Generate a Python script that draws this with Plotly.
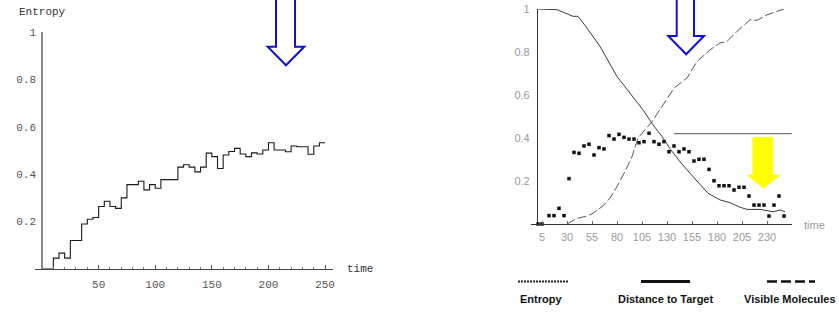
import plotly.graph_objects as go

W, H = 839, 313

# ---------------- data ----------------
# Left chart: entropy over time (step series)
left_time = [0, 10, 15, 20, 25, 35, 40, 45, 50, 55,
             60, 65, 70, 75, 85, 90, 95, 100, 105, 120,
             125, 130, 135, 140, 145, 150, 155, 160, 165, 170,
             175, 180, 185, 190, 195, 200, 205, 215, 220, 225,
             235, 240, 245, 250]
left_entropy = [0, 0.046, 0.067, 0.046, 0.12, 0.19, 0.21, 0.217, 0.264, 0.286,
                0.264, 0.256, 0.30, 0.356, 0.37, 0.334, 0.356, 0.341, 0.377, 0.43,
                0.44, 0.43, 0.41, 0.43, 0.489, 0.474, 0.424, 0.481, 0.496, 0.509,
                0.485, 0.474, 0.49, 0.485, 0.502, 0.533, 0.502, 0.495, 0.519, 0.516,
                0.484, 0.519, 0.533, 0.533]

# Right chart: entropy (dots)
right_entropy_time = [1, 5] + list(range(12, 248, 5))
right_entropy = [0, 0, 0.039, 0.039, 0.073, 0.039, 0.211, 0.333, 0.329, 0.363,
                 0.371, 0.321, 0.355, 0.349, 0.411, 0.395, 0.417, 0.403, 0.395, 0.395,
                 0.378, 0.383, 0.422, 0.383, 0.371, 0.383, 0.336, 0.363, 0.336, 0.349,
                 0.336, 0.293, 0.301, 0.301, 0.254, 0.201, 0.178, 0.178, 0.178, 0.158,
                 0.171, 0.171, 0.130, 0.088, 0.088, 0.088, 0.037, 0.088, 0.13, 0.037]

# Right chart: distance to target (solid)
distance_time = [0, 20, 36, 41, 50, 63, 80, 93, 106, 116, 125, 133, 143, 153,
                 163, 171, 183, 193, 203, 210, 223, 230, 236, 243, 248]
distance = [1.0, 0.997, 0.966, 0.966, 0.911, 0.826, 0.686, 0.609, 0.531, 0.461,
            0.407, 0.35, 0.29, 0.236, 0.182, 0.143, 0.112, 0.099, 0.078, 0.068,
            0.068, 0.062, 0.057, 0.065, 0.057]

# Right chart: visible molecules (dashed)
visible_time = [30, 40, 50, 56, 66, 73, 80, 88, 95, 101, 115, 127, 137, 150,
                160, 173, 183, 190, 200, 213, 220, 230, 240, 247]
visible = [0, 0.026, 0.037, 0.05, 0.084, 0.12, 0.174, 0.244, 0.313, 0.40,
           0.476, 0.562, 0.632, 0.679, 0.756, 0.81, 0.842, 0.849, 0.896, 0.95,
           0.947, 0.973, 0.989, 1.0]

# Right chart: reference level line
level_time = [137, 255]
level_value = [0.42, 0.42]

left_xticks = [50, 100, 150, 200, 250]
yticks = [0.2, 0.4, 0.6, 0.8, 1]
ytick_text = ["0.2", "0.4", "0.6", "0.8", "1"]
right_xticks = [5, 30, 55, 80, 105, 130, 155, 180, 205, 230]
legend_labels = ["Entropy", "Distance to Target", "Visible Molecules"]


def px(x):
    return x / W


def py(y):
    return 1 - y / H


fig = go.Figure()

fig.add_trace(go.Scatter(x=left_time, y=left_entropy, mode="lines",
                         line=dict(color="#1a1a1a", width=1.1, shape="hv"),
                         xaxis="x", yaxis="y", hoverinfo="skip"))

fig.add_trace(go.Scatter(x=distance_time, y=distance, mode="lines",
                         line=dict(color="#3a3a3a", width=1),
                         xaxis="x2", yaxis="y2", hoverinfo="skip"))
fig.add_trace(go.Scatter(x=visible_time, y=visible, mode="lines",
                         line=dict(color="#555555", width=1, dash="9px,3px"),
                         xaxis="x2", yaxis="y2", hoverinfo="skip"))
fig.add_trace(go.Scatter(x=level_time, y=level_value, mode="lines",
                         line=dict(color="#555555", width=1),
                         xaxis="x2", yaxis="y2", hoverinfo="skip"))
fig.add_trace(go.Scatter(x=right_entropy_time, y=right_entropy, mode="markers",
                         marker=dict(symbol="square", size=3.5, color="#111111"),
                         xaxis="x2", yaxis="y2", hoverinfo="skip", cliponaxis=False))

mono = dict(family="Liberation Mono, Courier New, monospace", size=11, color="#555555")
narrow = dict(family="Liberation Sans, Arial", size=11, color="#9a9a9a")

fig.update_layout(
    width=W, height=H,
    margin=dict(l=0, r=0, t=0, b=0, pad=0),
    paper_bgcolor="white", plot_bgcolor="white",
    showlegend=False,
    xaxis=dict(domain=[px(35), px(333)], range=[-6.2, 257], anchor="y", automargin=False,
               showgrid=False, showline=True, linecolor="#444444", linewidth=1,
               zeroline=True, zerolinecolor="#8a8a8a", zerolinewidth=2,
               tickvals=left_xticks, ticks="inside", ticklen=4, tickcolor="#555555",
               minor=dict(dtick=10, tick0=0, ticks="inside", ticklen=2, tickcolor="#777777"),
               tickfont=mono, ticklabelstandoff=5),
    yaxis=dict(domain=[py(269), py(32)], range=[0, 1], anchor="x", automargin=False,
               showgrid=False, showline=False, zeroline=False,
               tickvals=yticks, ticktext=ytick_text, ticks="", tickfont=mono,
               ticklabelstandoff=-2),
    xaxis2=dict(domain=[px(530.7), px(791.7)], range=[-6.3, 254.7], anchor="y2", automargin=False,
                showgrid=False, showline=True, linecolor="#333333", linewidth=1,
                zeroline=True, zerolinecolor="#333333", zerolinewidth=1,
                tickvals=right_xticks, ticks="inside", ticklen=3, tickcolor="#666666",
                tickfont=narrow, ticklabelstandoff=3),
    yaxis2=dict(domain=[py(224), py(9)], range=[0, 1], anchor="x2", automargin=False,
                showgrid=False, showline=False, zeroline=False,
                tickvals=yticks, ticktext=ytick_text, ticks="", tickfont=narrow),
)

# axis titles
annos = [
    dict(text="Entropy", x=px(17), y=py(12), xanchor="left", yanchor="middle",
         font=dict(family="Liberation Mono, Courier New, monospace", size=11, color="#333333")),
    dict(text="time", x=px(345), y=py(269), xanchor="left", yanchor="middle",
         font=dict(family="Liberation Mono, Courier New, monospace", size=11, color="#333333")),
    dict(text="time", x=px(802), y=py(225), xanchor="left", yanchor="middle",
         font=narrow),
]
leg_centers = [541, 665.5, 790]
for lab, cx in zip(legend_labels, leg_centers):
    annos.append(dict(text="<b>%s</b>" % lab, x=px(cx), y=py(299), xanchor="center", yanchor="middle",
                      font=dict(family="Liberation Sans, Arial", size=11, color="#111111")))
for a in annos:
    a.update(xref="paper", yref="paper", showarrow=False)
fig.update_layout(annotations=annos)


def poly(points):
    s = "M " + " L ".join("%.5f,%.5f" % (px(a), py(b)) for a, b in points) + " Z"
    return s


shapes = []
# hollow blue arrows
for (l, r, hl, hr, sb, tip) in [(276, 295, 267.7, 304.3, 46.7, 65.3),
                                (676.7, 694, 668.3, 704, 36, 54.3)]:
    cx = (hl + hr) / 2
    pts = [(l, -4), (l, sb), (hl, sb), (cx, tip), (hr, sb), (r, sb), (r, -4)]
    shapes.append(dict(type="path", path=poly(pts), xref="paper", yref="paper",
                       line=dict(color="#1010d0", width=2), fillcolor="white"))
# yellow filled arrow
ypts = [(752.7, 137.3), (752.7, 175), (747.3, 175), (763.5, 188.5),
        (780, 175), (772.7, 175), (772.7, 137.3)]
shapes.append(dict(type="path", path=poly(ypts), xref="paper", yref="paper",
                   line=dict(color="#ffff00", width=0.5), fillcolor="#ffff00"))
# legend samples
shapes.append(dict(type="line", x0=px(518), x1=px(568), y0=py(281.5), y1=py(281.5),
                   xref="paper", yref="paper", line=dict(color="#222222", width=2, dash="2px,1px")))
shapes.append(dict(type="line", x0=px(641), x1=px(690), y0=py(281.5), y1=py(281.5),
                   xref="paper", yref="paper", line=dict(color="#111111", width=3)))
shapes.append(dict(type="line", x0=px(767), x1=px(815), y0=py(281.5), y1=py(281.5),
                   xref="paper", yref="paper", line=dict(color="#111111", width=2.5, dash="10px,4px")))
fig.update_layout(shapes=shapes)

fig.write_html("out.html", config={"displayModeBar": False},
               post_script="document.body.style.margin='0';document.body.style.padding='0';")
